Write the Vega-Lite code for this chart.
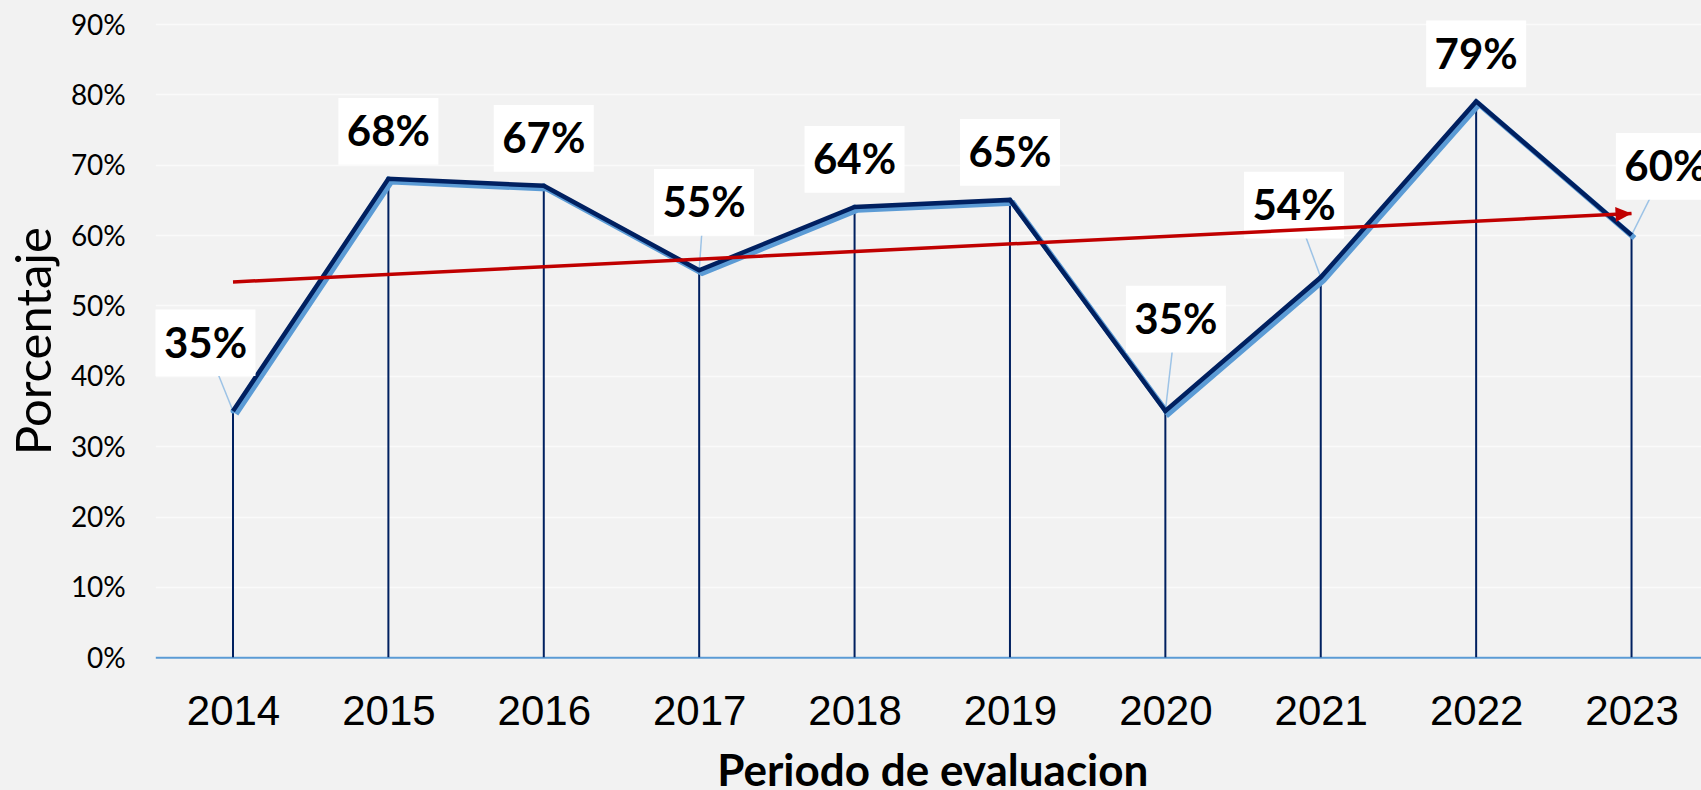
{
  "$schema": "https://vega.github.io/schema/vega-lite/v6.json",
  "width": 1545.7,
  "height": 633.3,
  "autosize": {"type": "none"},
  "padding": {"left": 155.3, "top": 24, "right": 0, "bottom": 132.7},
  "background": "#f2f2f2",
  "config": {"view": {"stroke": null}},
  "data": {
    "values": [
      {"year": 2014, "pct": 0.35, "lx": 2013.823, "ly": 0.447},
      {"year": 2015, "pct": 0.68, "lx": 2015, "ly": 0.7475},
      {"year": 2016, "pct": 0.67, "lx": 2016, "ly": 0.7375},
      {"year": 2017, "pct": 0.55, "lx": 2017.031, "ly": 0.6466},
      {"year": 2018, "pct": 0.64, "lx": 2018, "ly": 0.7077},
      {"year": 2019, "pct": 0.65, "lx": 2019, "ly": 0.7175},
      {"year": 2020, "pct": 0.35, "lx": 2020.068, "ly": 0.4805},
      {"year": 2021, "pct": 0.54, "lx": 2020.828, "ly": 0.6427},
      {"year": 2022, "pct": 0.79, "lx": 2022, "ly": 0.8575},
      {"year": 2023, "pct": 0.60, "lx": 2023.221, "ly": 0.6977}
    ]
  },
  "encoding": {
    "x": {
      "field": "year",
      "type": "quantitative",
      "scale": {"domain": [2013.5, 2023.447], "nice": false, "zero": false},
      "axis": {
        "values": [2014, 2015, 2016, 2017, 2018, 2019, 2020, 2021, 2022, 2023],
        "format": "d",
        "title": "Periodo de evaluacion",
        "grid": false,
        "ticks": false,
        "tickSize": 0,
        "labelFont": "Liberation Sans",
        "labelFontSize": 42,
        "labelColor": "#000000",
        "labelBaseline": "alphabetic",
        "labelPadding": 67,
        "labelFlush": false,
        "labelOverlap": false,
        "domainColor": "#5B9BD5",
        "domainWidth": 2,
        "titleFont": "Lato",
        "titleFontWeight": "bold",
        "titleFontSize": 44,
        "titleColor": "#000000",
        "titleX": 777,
        "titleY": 127.7,
        "titleBaseline": "alphabetic",
        "titleAlign": "center",
        "titleAnchor": null
      }
    },
    "y": {
      "field": "pct",
      "type": "quantitative",
      "scale": {"domain": [0, 0.9], "nice": false},
      "axis": {
        "values": [0, 0.1, 0.2, 0.3, 0.4, 0.5, 0.6, 0.7, 0.8, 0.9],
        "format": ".0%",
        "title": "Porcentaje",
        "grid": true,
        "gridColor": "#fafafa",
        "gridWidth": 1.5,
        "domain": false,
        "ticks": false,
        "tickSize": 0,
        "labelFont": "Lato",
        "labelFontSize": 28,
        "labelColor": "#000000",
        "labelBaseline": "alphabetic",
        "labelOffset": 10,
        "labelPadding": 30,
        "titleFont": "Lato",
        "titleFontWeight": "normal",
        "titleFontSize": 49,
        "titleColor": "#000000",
        "titleAngle": 270,
        "titleX": -105.3,
        "titleY": 316.6,
        "titleBaseline": "alphabetic",
        "titleAlign": "center"
      }
    }
  },
  "layer": [
    {
      "mark": {"type": "rule", "color": "#002060", "strokeWidth": 2},
      "encoding": {"y2": {"datum": 0}}
    },
    {
      "transform": [{"filter": "abs(datum.lx - datum.year) > 0.02 || (datum.ly - datum.pct) > 0.08"}],
      "mark": {"type": "rule", "color": "#9DC3E6", "strokeWidth": 1.5},
      "encoding": {"x2": {"field": "lx"}, "y2": {"field": "ly"}}
    },
    {
      "mark": {"type": "line", "color": "#5B9BD5", "strokeWidth": 5.5, "xOffset": 3, "yOffset": 3, "strokeJoin": "miter"},
      "encoding": {}
    },
    {
      "mark": {"type": "point", "shape": "circle", "filled": true, "opacity": 1, "size": 25, "color": "#5B9BD5"},
      "encoding": {}
    },
    {
      "mark": {"type": "line", "color": "#002060", "strokeWidth": 4.5, "strokeJoin": "miter"},
      "encoding": {}
    },
    {
      "mark": {"type": "point", "shape": "M-1,-0.667L1,-0.667L1,0.667L-1,0.667Z", "size": 10000, "filled": true, "opacity": 1, "color": "#ffffff", "strokeWidth": 0},
      "encoding": {
        "x": {"field": "lx", "type": "quantitative", "scale": {"domain": [2013.5, 2023.447], "nice": false, "zero": false}},
        "y": {"field": "ly", "type": "quantitative", "scale": {"domain": [0, 0.9], "nice": false}}
      }
    },
    {
      "mark": {"type": "text", "font": "Lato", "fontWeight": "bold", "fontSize": 42, "align": "center", "baseline": "alphabetic", "dy": 15, "color": "#000000"},
      "encoding": {
        "x": {"field": "lx", "type": "quantitative", "scale": {"domain": [2013.5, 2023.447], "nice": false, "zero": false}},
        "y": {"field": "ly", "type": "quantitative", "scale": {"domain": [0, 0.9], "nice": false}},
        "text": {"field": "pct", "type": "quantitative", "format": ".0%"}
      }
    },
    {
      "transform": [{"regression": "pct", "on": "year", "extent": [2014, 2023]}],
      "mark": {"type": "line", "color": "#C00000", "strokeWidth": 3.5},
      "encoding": {}
    },
    {
      "transform": [
        {"regression": "pct", "on": "year", "extent": [2014, 2023]},
        {"filter": "datum.year > 2022"}
      ],
      "mark": {"type": "point", "shape": "M0,0L-1,-0.47L-1,0.47Z", "size": 1024, "angle": -2.8, "filled": true, "opacity": 1, "color": "#C00000", "strokeWidth": 0},
      "encoding": {}
    }
  ]
}
